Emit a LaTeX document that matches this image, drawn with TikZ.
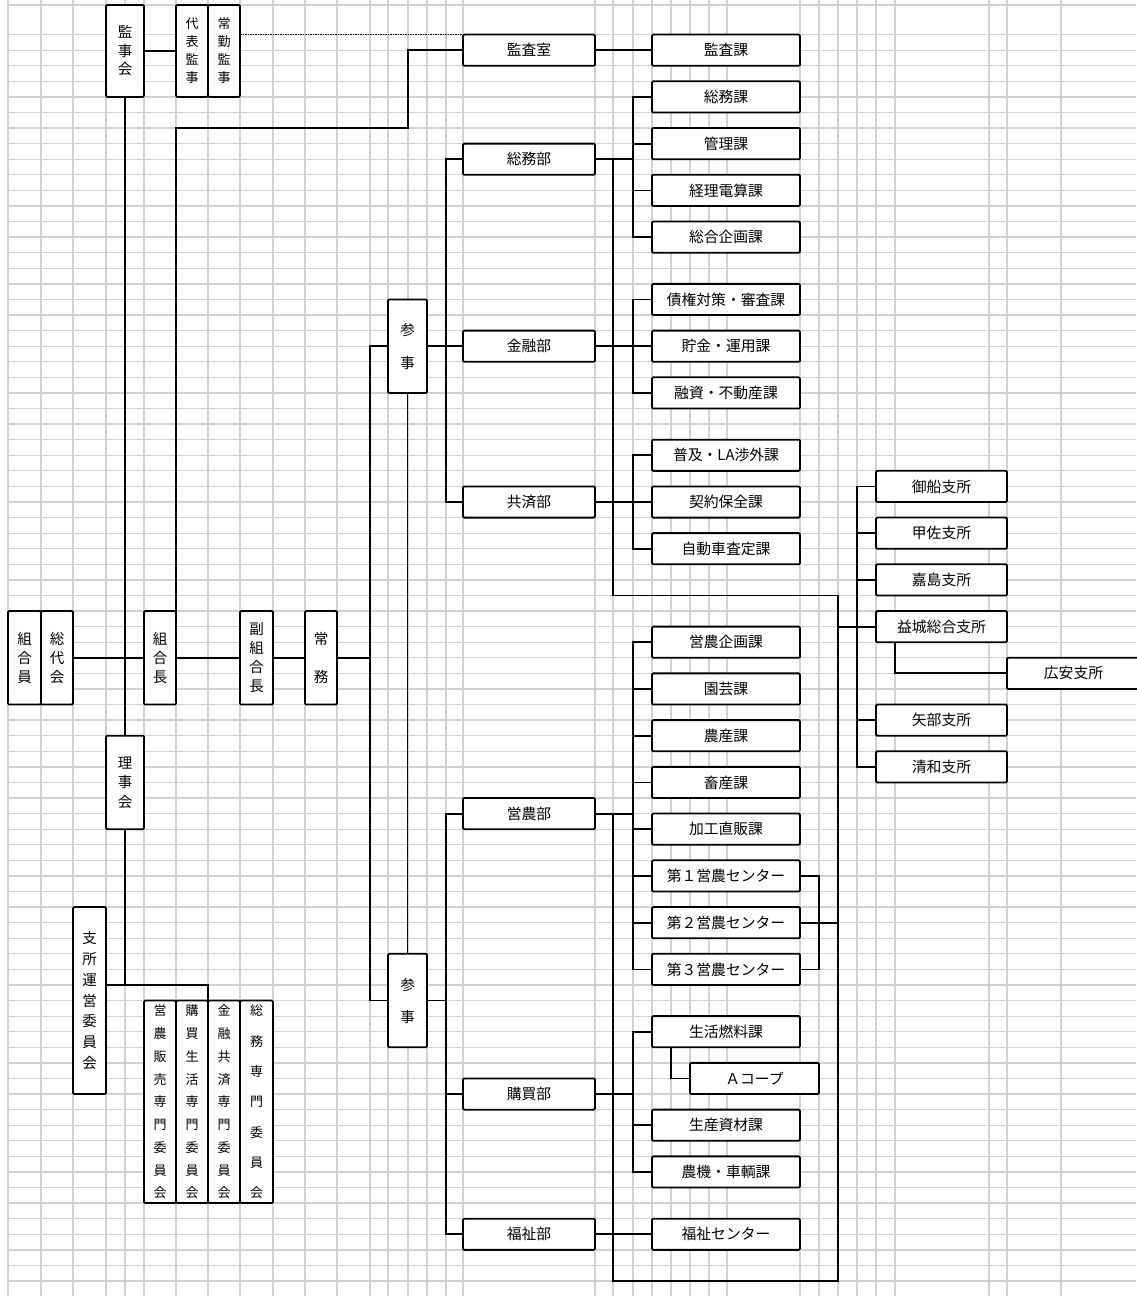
\documentclass[tikz,border=0pt]{standalone}
\usepackage{fontspec}
\setmainfont{Noto Sans CJK JP}
\usetikzlibrary{calc}
\definecolor{gridgray}{RGB}{210,210,210}
\begin{document}
\begin{tikzpicture}[x=1pt,y=-1pt,
  declare function={Y(\k)=34.6+15.58*\k;},
  gridln/.style={draw=gridgray, line width=1.3pt},
  conn/.style={line width=1.8pt, black},
  box/.style={draw, line width=1.8pt, fill=white, rounded corners=1.2pt, inner sep=0pt, outer sep=0pt, align=center},
  hbox/.style={box, minimum height=31.2pt, font=\fontsize{14.8}{16}\selectfont},
  dept/.style={hbox, minimum width=132pt},
  sec/.style={hbox, minimum width=148pt},
  shisho/.style={hbox, minimum width=131pt},
  vbox/.style={box, minimum height=93.5pt, font=\fontsize{14.5}{19}\selectfont},
  cbox/.style={box, minimum height=202.5pt, font=\fontsize{13}{22.75}\selectfont}
]
\useasboundingbox (0,0) rectangle (1136,1296);
\fill[white] (0,0) rectangle (1136,1296);
% grid
\foreach \x in {8,41,73,106,125,144,176,208,240,273,305,337,370,388,408,427,446,463,595,613,633,652,671,690,709,727,800,819,838,857,876,895,989,1007,1061}
  \draw[gridln] (\x,0) -- (\x,1296);
\draw[gridln] (8,5) -- (1136,5);
\foreach \k in {0,...,80}
  \draw[gridln] (8,{Y(\k)}) -- (1136,{Y(\k)});

% bus coordinates
\coordinate (x446) at (446,0);
\coordinate (x613) at (613,0);
\coordinate (x633) at (633,0);
\coordinate (x838) at (838,0);
\coordinate (x857) at (857,0);

% top-left
\node[box, minimum width=38pt, minimum height=91.9pt, font=\fontsize{14.5}{18.5}\selectfont] (kanjikai) at (125,50.95) {監\\事\\会};
\node[box, minimum width=32pt, minimum height=91.9pt, font=\fontsize{13}{18}\selectfont] (daihyo) at (192,50.95) {代\\表\\監\\事};
\node[box, minimum width=32pt, minimum height=91.9pt, font=\fontsize{13}{18}\selectfont] (jokin) at (224,50.95) {常\\勤\\監\\事};

% main chain
\node[vbox, minimum width=33pt] (kumiaiin) at (24.5,{Y(40)}) {組\\合\\員};
\node[vbox, minimum width=32pt] (sodaikai) at (57,{Y(40)}) {総\\代\\会};
\node[vbox, minimum width=32pt] (kumiaicho) at (160,{Y(40)}) {組\\合\\長};
\node[vbox, minimum width=33pt] (fuku) at (256.5,{Y(40)}) {副\\組\\合\\長};
\node[vbox, minimum width=32pt, font=\fontsize{14.5}{38}\selectfont] (jomu) at (321,{Y(40)}) {常\\務};
\node[vbox, minimum width=38pt, font=\fontsize{14.5}{19.5}\selectfont] (rijikai) at (125,{Y(48)}) {理\\事\\会};
\node[box, minimum width=33pt, minimum height=187pt, font=\fontsize{14.5}{20.7}\selectfont] (shishounei) at (89.5,{Y(62)}) {支\\所\\運\\営\\委\\員\\会};
\node[vbox, minimum width=39pt, font=\fontsize{14.5}{33}\selectfont] (sanji1) at (407.5,{Y(20)}) {参\\事};
\node[vbox, minimum width=39pt, font=\fontsize{14.5}{32}\selectfont] (sanji2) at (407.5,{Y(62)}) {参\\事};

% committees
\node[cbox, minimum width=32pt] (com1) at (160,{Y(68.5)}) {営\\農\\販\\売\\専\\門\\委\\員\\会};
\node[cbox, minimum width=32pt] (com2) at (192,{Y(68.5)}) {購\\買\\生\\活\\専\\門\\委\\員\\会};
\node[cbox, minimum width=32pt] (com3) at (224,{Y(68.5)}) {金\\融\\共\\済\\専\\門\\委\\員\\会};
\node[cbox, minimum width=33pt, font=\fontsize{13}{30.3}\selectfont] (com4) at (256.5,{Y(68.5)}) {総\\務\\専\\門\\委\\員\\会};

% departments
\node[dept] (kansashitsu) at (529,{Y(1)}) {監査室};
\node[dept] (somubu) at (529,{Y(8)}) {総務部};
\node[dept] (kinyubu) at (529,{Y(20)}) {金融部};
\node[dept] (kyosaibu) at (529,{Y(30)}) {共済部};
\node[dept] (einobu) at (529,{Y(50)}) {営農部};
\node[dept] (kobaibu) at (529,{Y(68)}) {購買部};
\node[dept] (fukushibu) at (529,{Y(77)}) {福祉部};

% sections
\node[sec] (kansaka) at (726,{Y(1)}) {監査課};
\node[sec] (somuka) at (726,{Y(4)}) {総務課};
\node[sec] (kanrika) at (726,{Y(7)}) {管理課};
\node[sec] (keiri) at (726,{Y(10)}) {経理電算課};
\node[sec] (sogo) at (726,{Y(13)}) {総合企画課};
\node[sec] (saiken) at (726,{Y(17)}) {債権対策・審査課};
\node[sec] (chokin) at (726,{Y(20)}) {貯金・運用課};
\node[sec] (yushi) at (726,{Y(23)}) {融資・不動産課};
\node[sec] (fukyu) at (726,{Y(27)}) {普及・LA渉外課};
\node[sec] (keiyaku) at (726,{Y(30)}) {契約保全課};
\node[sec] (jidosha) at (726,{Y(33)}) {自動車査定課};
\node[sec] (kikaku) at (726,{Y(39)}) {営農企画課};
\node[sec] (engei) at (726,{Y(42)}) {園芸課};
\node[sec] (nosan) at (726,{Y(45)}) {農産課};
\node[sec] (chikusan) at (726,{Y(48)}) {畜産課};
\node[sec] (kako) at (726,{Y(51)}) {加工直販課};
\node[sec] (cen1) at (726,{Y(54)}) {第１営農センター};
\node[sec] (cen2) at (726,{Y(57)}) {第２営農センター};
\node[sec] (cen3) at (726,{Y(60)}) {第３営農センター};
\node[sec] (seikatsu) at (726,{Y(64)}) {生活燃料課};
\node[hbox, minimum width=129pt] (acoop) at (754.5,{Y(67)}) {Ａコープ};
\node[sec] (seisan) at (726,{Y(70)}) {生産資材課};
\node[sec] (noki) at (726,{Y(73)}) {農機・車輌課};
\node[sec] (fukushic) at (726,{Y(77)}) {福祉センター};

% branches
\node[shisho] (mifune) at (941.5,{Y(29)}) {御船支所};
\node[shisho] (kosa) at (941.5,{Y(32)}) {甲佐支所};
\node[shisho] (kajima) at (941.5,{Y(35)}) {嘉島支所};
\node[shisho] (mashiki) at (941.5,{Y(38)}) {益城総合支所};
\node[hbox, minimum width=141pt] (hiroyasu) at (1077.5,{Y(41)}) {広安支所\hspace*{8pt}};
\node[shisho] (yabe) at (941.5,{Y(44)}) {矢部支所};
\node[shisho] (seiwa) at (941.5,{Y(47)}) {清和支所};

% ---- connectors ----
\draw[conn] (kanjikai.east) -- (daihyo.west);
\draw[line width=1pt, dash pattern=on 1.5pt off 1pt] (jokin.east |- kansashitsu.north west) -- (kansashitsu.north west);
\draw[conn] (kansashitsu.east) -- (kansaka.west);
\coordinate (k6) at (408,{Y(6)});
\draw[conn] (kumiaicho.north east) |- (k6) |- (kansashitsu.west);
\draw[conn] (sodaikai.east) -- (kumiaicho.west);
\draw[conn] (kumiaicho.east) -- (fuku.west);
\draw[conn] (fuku.east) -- (jomu.west);
\draw[conn] (kanjikai.south) -- (rijikai.north);
\coordinate (j61) at (125,{Y(61)});
\draw[conn] (rijikai.south) -- (j61);
\draw[conn] (shishounei.east |- j61) -| (com2.north east);
\coordinate (b370) at (370,{Y(40)});
\draw[conn] (jomu.east) -- (b370);
\draw[conn] (sanji1.west) -| (b370) |- (sanji2.west);
\draw[conn] (sanji1.south) -- (sanji2.north);
% upper departments
\draw[conn] (sanji1.east) -- (kinyubu.west);
\draw[conn] (somubu.west) -| (kinyubu.west -| x446) |- (kyosaibu.west);
% lower departments
\draw[conn] (sanji2.east) -- (sanji2.east -| x446);
\draw[conn] (einobu.west) -| (sanji2.east -| x446) |- (fukushibu.west);
\draw[conn] (kobaibu.west) -- (kobaibu.west -| x446);
% somubu sections
\draw[conn] (somubu.east) -- (somubu.east -| x633);
\draw[conn] (somuka.west) -| (somubu.east -| x633) |- (sogo.west);
\draw[conn] (kanrika.west) -- (kanrika.west -| x633);
\draw[conn] (keiri.west) -- (keiri.west -| x633);
% kinyubu sections
\draw[conn] (kinyubu.east) -- (chokin.west);
\draw[conn] (saiken.west) -| (chokin.west -| x633) |- (yushi.west);
% kyosaibu sections
\draw[conn] (kyosaibu.east) -- (keiyaku.west);
\draw[conn] (fukyu.west) -| (keiyaku.west -| x633) |- (jidosha.west);
% einobu sections
\draw[conn] (einobu.east) -- (einobu.east -| x633);
\draw[conn] (kikaku.west) -| (einobu.east -| x633) |- (cen3.west);
\foreach \n in {engei,nosan,chikusan,kako,cen1,cen2}
  \draw[conn] (\n.west) -- (\n.west -| x633);
\draw[conn] (cen1.east) -- ++(19,0) |- (cen3.east);
\draw[conn] (cen2.east) -- (cen2.east -| x838);
% kobaibu sections
\draw[conn] (kobaibu.east) -- (kobaibu.east -| x633);
\draw[conn] (seikatsu.west) -| (kobaibu.east -| x633) |- (noki.west);
\draw[conn] (seisan.west) -- (seisan.west -| x633);
\draw[conn] ($(seikatsu.south west)+(19,0)$) |- (acoop.west);
% fukushibu
\draw[conn] (fukushibu.east) -- (fukushic.west);
% branch loop
\coordinate (t36) at (613,{Y(36)});
\coordinate (b80) at (613,{Y(80)});
\draw[conn] (somubu.east -| x613) -- (t36) -- (t36 -| x838) -- (b80 -| x838) -- (b80) -- (einobu.east -| x613);
\draw[conn] (mashiki.west) -- (mashiki.west -| x838);
\draw[conn] (mifune.west) -| (mashiki.west -| x857) |- (seiwa.west);
\foreach \n in {kosa,kajima,yabe}
  \draw[conn] (\n.west) -- (\n.west -| x857);
\draw[conn] ($(mashiki.south west)+(19,0)$) |- (hiroyasu.west);
\end{tikzpicture}
\end{document}
